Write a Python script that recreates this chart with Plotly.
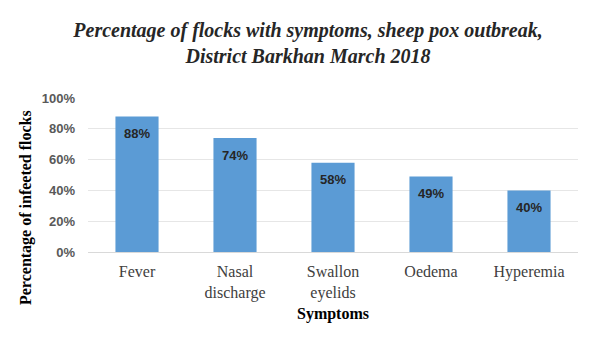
import plotly.graph_objects as go

categories = ["Fever", "Nasal<br>discharge", "Swallon<br>eyelids", "Oedema", "Hyperemia"]
values = [88, 74, 58, 49, 40]
labels = [f"{v}%" for v in values]
tick_vals = [0, 20, 40, 60, 80, 100]
tick_text = [f"{v}%" for v in tick_vals]

SERIF = "Liberation Serif, Times New Roman, serif"
SANS = "Liberation Sans, Arial, sans-serif"

W, H = 593, 343
ML, MR, MT, MB = 88, 15, 98, 91
PW, PH = W - ML - MR, H - MT - MB

fig = go.Figure()
fig.add_trace(go.Bar(
    x=categories, y=values,
    marker=dict(color="#5B9BD5", line=dict(width=0)),
    width=0.44,
))

for c, v, t in zip(categories, values, labels):
    fig.add_annotation(
        x=c, y=v, xref="x", yref="y", text=t, showarrow=False,
        yanchor="middle", yshift=-17,
        font=dict(family=SANS, size=13, color="#262626", weight="bold"),
    )

fig.add_annotation(
    x=(26 - ML) / PW, y=(H - MB - 208) / PH, xref="paper", yref="paper",
    text="Percentage of infeeted flocks", textangle=-90, showarrow=False,
    xanchor="center", yanchor="middle",
    font=dict(family=SERIF, size=16, color="black", weight="bold"),
)

fig.update_layout(
    width=W, height=H,
    margin=dict(l=ML, r=MR, t=MT, b=MB),
    paper_bgcolor="white", plot_bgcolor="white",
    showlegend=False,
    title=dict(
        text="Percentage of flocks with symptoms, sheep pox outbreak,<br>District Barkhan March 2018",
        x=308 / W, xanchor="center", y=1 - 37 / H, yanchor="top", yref="container",
        font=dict(family=SERIF, size=20, color="#262626", weight="bold", style="italic"),
    ),
    xaxis=dict(
        showgrid=False, showline=True, linecolor="#D9D9D9", linewidth=1,
        tickfont=dict(family=SERIF, size=16, color="#404040"),
        ticks="outside", ticklen=5, tickcolor="rgba(0,0,0,0)",
        title=dict(text="Symptoms", standoff=6,
                   font=dict(family=SERIF, size=16, color="black", weight="bold")),
    ),
    yaxis=dict(
        range=[0, 100], tickvals=tick_vals, ticktext=tick_text,
        showgrid=True, gridcolor="#E6E6E6", gridwidth=1,
        zeroline=False, showline=False,
        tickfont=dict(family=SANS, size=13, color="#595959", weight="bold"),
        ticks="", ticklabelstandoff=12,
    ),
)

fig.write_html("out.html")
